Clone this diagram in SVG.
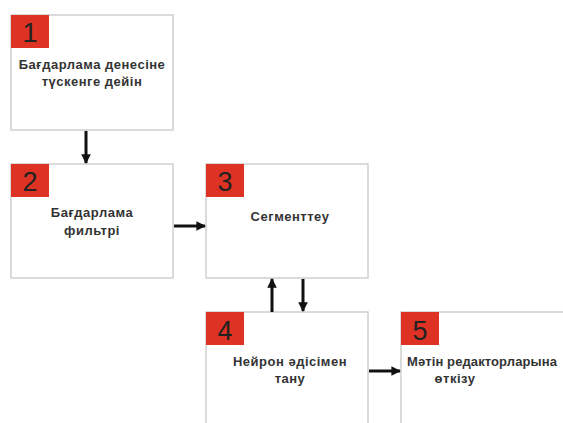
<svg xmlns="http://www.w3.org/2000/svg" width="563" height="423" viewBox="0 0 563 423">
<style>
.box{fill:#fff;stroke:#cfcfcf;stroke-width:1.5}
.num{fill:#dd3224}
.n{font-family:"Liberation Sans",Arial,sans-serif;font-size:27px;fill:#222;text-anchor:middle}
.t{font-family:"Liberation Sans",Arial,sans-serif;font-size:13px;letter-spacing:0.5px;font-weight:bold;fill:#333;text-anchor:middle}
.c{stroke:#111;stroke-width:3;fill:none}
</style>
<defs>
<marker id="ah" viewBox="0 0 10 10" refX="9" refY="5" markerWidth="3.4" markerHeight="3.2" orient="auto" markerUnits="strokeWidth">
<path d="M0,0 L10,5 L0,10 z" fill="#111"/>
</marker>
</defs>
<rect width="563" height="423" fill="#fff"/>
<g id="node1">
<rect class="box" x="11" y="15" width="162" height="115"/>
<rect class="num" x="11" y="15" width="38" height="33"/>
<text class="n" x="30" y="42">1</text>
<text class="t" x="92" y="69">Бағдарлама денесіне</text>
<text class="t" x="92" y="86">түскенге дейін</text>
</g>
<g id="node2">
<rect class="box" x="11" y="164" width="162" height="114"/>
<rect class="num" x="11" y="164" width="38" height="33"/>
<text class="n" x="30" y="191">2</text>
<text class="t" x="92" y="217">Бағдарлама</text>
<text class="t" x="92" y="235">фильтрі</text>
</g>
<g id="node3">
<rect class="box" x="206" y="164" width="162" height="114"/>
<rect class="num" x="206" y="164" width="38" height="33"/>
<text class="n" x="225" y="191">3</text>
<text class="t" x="290" y="221">Сегменттеу</text>
</g>
<g id="node4">
<rect class="box" x="206" y="312" width="162" height="120"/>
<rect class="num" x="206" y="312" width="38" height="33"/>
<text class="n" x="225" y="340">4</text>
<text class="t" x="290" y="366">Нейрон әдісімен</text>
<text class="t" x="290" y="383">тану</text>
</g>
<g id="node5">
<rect class="box" x="401" y="312" width="180" height="120"/>
<rect class="num" x="401" y="312" width="38" height="33"/>
<text class="n" x="420" y="340">5</text>
<text class="t" x="407" y="366" style="text-anchor:start;letter-spacing:0.1px">Мәтін редакторларына</text>
<text class="t" x="455" y="383">өткізу</text>
</g>
<g id="connectors">
<line class="c" x1="86" y1="131" x2="86" y2="163" marker-end="url(#ah)"/>
<line class="c" x1="174" y1="226" x2="205" y2="226" marker-end="url(#ah)"/>
<line class="c" x1="272" y1="312" x2="272" y2="279" marker-end="url(#ah)"/>
<line class="c" x1="303" y1="279" x2="303" y2="311" marker-end="url(#ah)"/>
<line class="c" x1="369" y1="371" x2="400" y2="371" marker-end="url(#ah)"/>
</g>
</svg>
